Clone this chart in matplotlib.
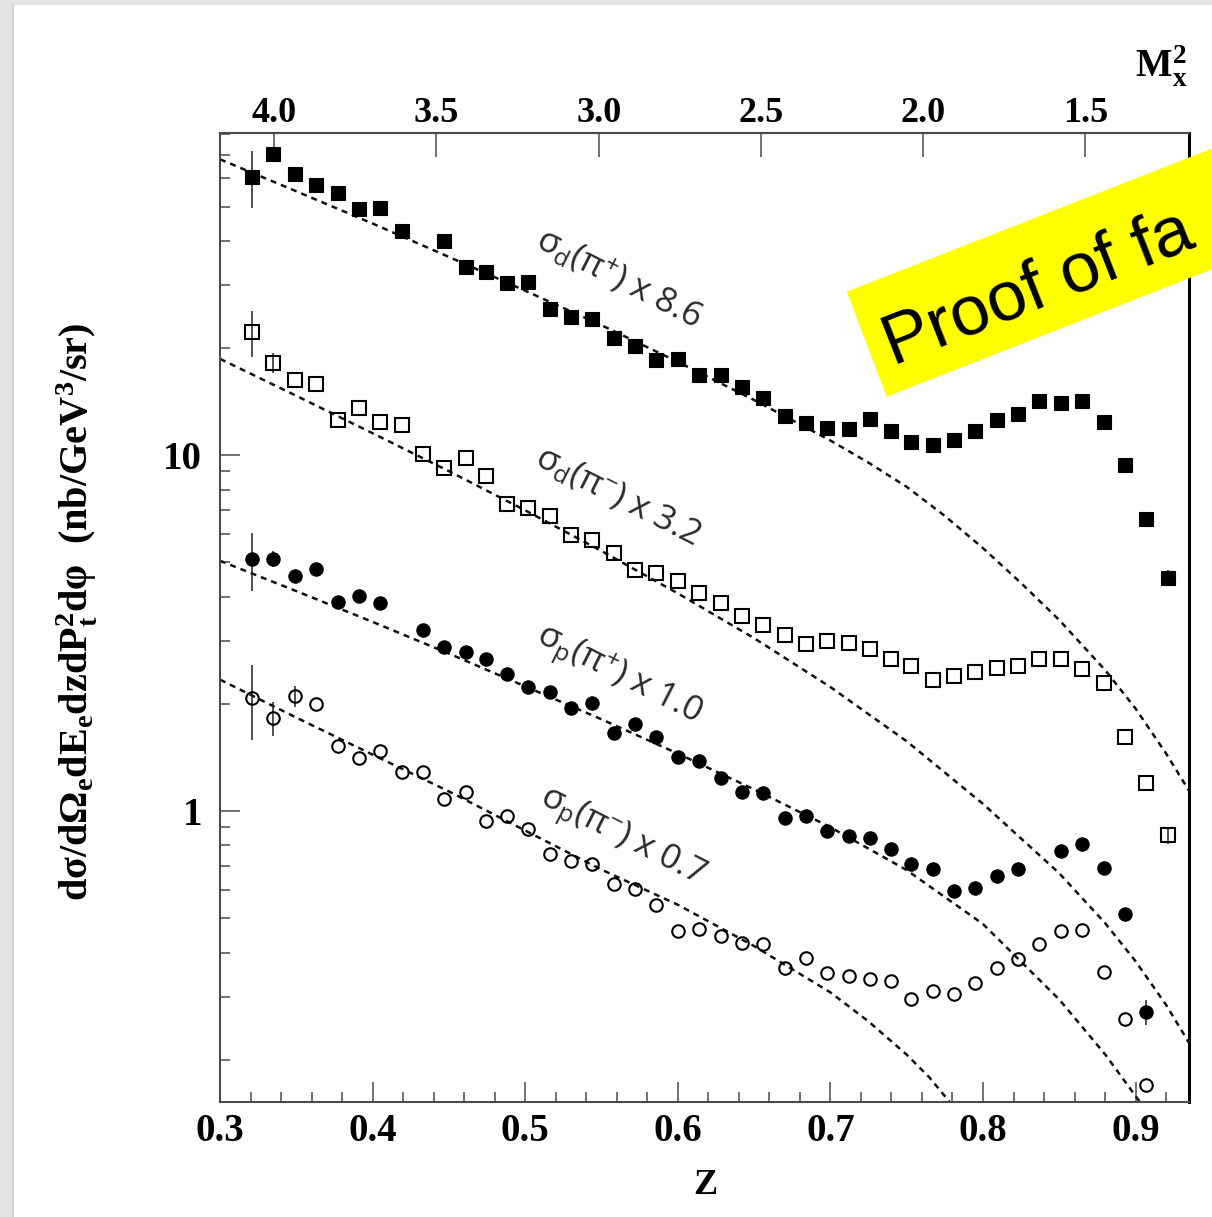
import numpy as np
import matplotlib
matplotlib.use("Agg")
import matplotlib.pyplot as plt
from matplotlib.patches import Rectangle, Polygon
from matplotlib.ticker import MultipleLocator, FuncFormatter, LogLocator, NullLocator, NullFormatter

plt.rcParams.update({
    'font.family': ['Liberation Serif', 'DejaVu Serif'],
    'font.weight': 'bold',
    'mathtext.fontset': 'custom',
    'mathtext.rm': 'Liberation Serif:bold',
    'mathtext.bf': 'Liberation Serif:bold',
    'mathtext.it': 'Liberation Serif:bold',
    'mathtext.default': 'rm',
})

# ---------------- data ----------------
z = [0.321, 0.335, 0.349, 0.363, 0.377, 0.391, 0.405, 0.419, 0.433, 0.447,
     0.461, 0.474, 0.488, 0.502, 0.516, 0.530, 0.544, 0.558, 0.572, 0.586,
     0.600, 0.614, 0.628, 0.642, 0.656, 0.670, 0.684, 0.698, 0.712, 0.726,
     0.740, 0.753, 0.767, 0.781, 0.795, 0.809, 0.823, 0.837, 0.851, 0.865,
     0.879, 0.893, 0.907, 0.921]

nan = np.nan
# deuterium pi+ (x 8.6)
deut_pip = [60.7, 70.2, 61.7, 57.5, 54.7, 49.2, 49.7, 42.8, nan, 40.1,
            33.9, 32.7, 30.5, 30.7, 25.8, 24.5, 24.1, 21.3, 20.3, 18.55,
            18.6, 16.8, 16.8, 15.6, 14.5, 12.85, 12.3, 11.9, 11.85, 12.65,
            11.7, 10.9, 10.7, 11.05, 11.7, 12.6, 13.1, 14.2, 14.0, 14.2,
            12.4, 9.4, 6.6, 4.52]
# deuterium pi- (x 3.2)
deut_pim = [22.2, 18.2, 16.3, 15.85, 12.6, 13.6, 12.4, 12.2, 10.1, 9.22,
            9.84, 8.76, 7.31, 7.11, 6.73, 5.98, 5.78, 5.31, 4.75, 4.67,
            4.42, 4.10, 3.83, 3.53, 3.34, 3.13, 2.95, 3.00, 2.97, 2.86,
            2.68, 2.55, 2.34, 2.39, 2.46, 2.53, 2.55, 2.67, 2.68, 2.51,
            2.29, 1.61, 1.20, 0.854]
# proton pi+ (x 1.0)
prot_pip = [5.11, 5.11, 4.59, 4.79, 3.86, 4.03, 3.84, nan, 3.23, 2.89,
            2.80, 2.67, 2.42, 2.23, 2.16, 1.95, 2.01, 1.66, 1.75, 1.61,
            1.42, 1.38, 1.24, 1.13, 1.12, 0.957, 0.967, 0.878, 0.850, 0.841,
            0.780, 0.708, 0.685, 0.595, 0.609, 0.656, 0.688, nan, 0.771, 0.810,
            0.693, 0.512, 0.272, nan]
# proton pi- (x 0.7)
prot_pim = [2.08, 1.82, 2.10, 2.00, 1.52, 1.41, 1.47, 1.29, 1.29, 1.08,
            1.13, 0.936, 0.971, 0.891, 0.755, 0.723, 0.708, 0.622, 0.602, 0.543,
            0.460, 0.465, 0.445, 0.426, 0.424, 0.363, 0.385, 0.351, 0.344, 0.338,
            0.333, 0.297, 0.312, 0.305, 0.329, 0.363, 0.383, 0.424, 0.460, 0.463,
            0.352, 0.260, 0.170, nan]

# visible statistical error bars (index, half-width)
deut_pip_err_idx = [0, 1, 43]
deut_pip_err = [11.0, 2.5, 0.24]
deut_pim_err_idx = [0, 1, 43]
deut_pim_err = [3.3, 1.2, 0.045]
prot_pip_err_idx = [0, 1, 42]
prot_pip_err = [0.95, 0.27, 0.022]
prot_pim_err_idx = [0, 1, 2]
prot_pim_err = [0.50, 0.20, 0.14]

# model curves (dashed)
m_deut_pip_z = [0.300, 0.350, 0.400, 0.450, 0.500, 0.550, 0.600, 0.650, 0.700,
                0.725, 0.750, 0.775, 0.800, 0.825, 0.850, 0.880, 0.900, 0.920, 0.935]
m_deut_pip = [67.9, 55.2, 44.8, 36.1, 29.0, 23.2, 18.3, 14.3, 11.0,
              9.53, 8.15, 6.75, 5.48, 4.37, 3.44, 2.49, 1.94, 1.45, 1.14]
m_deut_pim_z = [0.300, 0.350, 0.400, 0.450, 0.500, 0.550, 0.600, 0.650, 0.700,
                0.750, 0.800, 0.850, 0.880, 0.900, 0.920, 0.935]
m_deut_pim = [18.66, 14.69, 11.53, 9.02, 7.00, 5.38, 4.09, 3.06, 2.23,
              1.57, 1.047, 0.668, 0.484, 0.378, 0.285, 0.223]
m_prot_pip_z = [0.300, 0.350, 0.400, 0.450, 0.500, 0.550, 0.600, 0.650, 0.700,
                0.750, 0.800, 0.850, 0.880, 0.900, 0.910]
m_prot_pip = [5.05, 4.15, 3.40, 2.77, 2.24, 1.81, 1.45, 1.15, 0.90,
              0.682, 0.481, 0.295, 0.207, 0.158, 0.138]
m_prot_pim_z = [0.300, 0.350, 0.400, 0.450, 0.500, 0.550, 0.600, 0.650, 0.700,
                0.725, 0.750, 0.765, 0.785]
m_prot_pim = [2.34, 1.83, 1.44, 1.135, 0.881, 0.684, 0.545, 0.417, 0.309,
              0.256, 0.2065, 0.178, 0.140]

labels = [r'σ$_\mathregular{d}$(π$^\mathregular{+}$) x 8.6',
          r'σ$_\mathregular{d}$(π$^\mathregular{-}$) x 3.2',
          r'σ$_\mathregular{p}$(π$^\mathregular{+}$) x 1.0',
          r'σ$_\mathregular{p}$(π$^\mathregular{-}$) x 0.7']
label_pos = [(0.561, 31.3), (0.561, 7.64), (0.561, 2.39), (0.563, 0.842)]

# missing-mass scale on top: M_x^2 = A - B z
MX_A, MX_B = 5.578, 4.703
mx2_ticks = [4.0, 3.5, 3.0, 2.5, 2.0, 1.5]

# ---------------- figure ----------------
W, H = 1212, 1217
fig = plt.figure(figsize=(W / 100, H / 100), dpi=100, facecolor='#e4e4e4')
fig.add_artist(Rectangle((13 / W, 0), 1 - 13 / W, 1 - 5 / H, transform=fig.transFigure,
                         facecolor='white', edgecolor='none', zorder=-5))
fig.add_artist(plt.Line2D([12.5 / W, 12.5 / W], [0, 1 - 5 / H], transform=fig.transFigure,
                          color='#cfcfcf', lw=1.2, zorder=-4))

ax = fig.add_axes([220 / W, 1 - 1102 / H, 969 / W, 969 / H])
ax.set_yscale('log')
ax.set_xlim(0.3, 0.935)
ax.set_ylim(0.152, 80.5)

zz = np.array(z)
dash = (0, (2.4, 2.0))
for mz, mv in [(m_deut_pip_z, m_deut_pip), (m_deut_pim_z, m_deut_pim),
               (m_prot_pip_z, m_prot_pip), (m_prot_pim_z, m_prot_pim)]:
    ax.plot(mz, mv, ls=dash, color='#111111', lw=1.8, zorder=2)

series = [
    (deut_pip, deut_pip_err_idx, deut_pip_err, 's', True, 10.2),
    (deut_pim, deut_pim_err_idx, deut_pim_err, 's', False, 9.5),
    (prot_pip, prot_pip_err_idx, prot_pip_err, 'o', True, 9.6),
    (prot_pim, prot_pim_err_idx, prot_pim_err, 'o', False, 9.0),
]
for vals, eidx, err, mk, filled, ms in series:
    vv = np.array(vals, dtype=float)
    ok = ~np.isnan(vv)
    ax.errorbar(zz[eidx], vv[eidx], yerr=err, fmt='none', ecolor='#222222',
                elinewidth=1.1, capsize=0, zorder=3)
    ax.plot(zz[ok], vv[ok], ls='none', marker=mk, ms=ms,
            mfc='black' if filled else 'none', mec='black',
            mew=0.8 if filled else 1.5, zorder=4)

for txt, (px, py) in zip(labels, label_pos):
    ax.text(px, py, txt, rotation=-27, rotation_mode='anchor', ha='center', va='center',
            fontsize=25, family=['Open Sans', 'DejaVu Sans'], weight='normal',
            color='#2b2b2b', zorder=5)

# axes styling
for side in ['left', 'bottom', 'top']:
    ax.spines[side].set_color('#4a4a4a')
    ax.spines[side].set_linewidth(1.5)
ax.spines['right'].set_color('black')
ax.spines['right'].set_linewidth(2.2)

ax.xaxis.set_major_locator(MultipleLocator(0.1))
ax.xaxis.set_minor_locator(MultipleLocator(0.02))
ax.xaxis.set_major_formatter(FuncFormatter(lambda v, p: f'{v:.1f}'))
ax.yaxis.set_major_locator(LogLocator(base=10))
ax.yaxis.set_minor_locator(LogLocator(base=10, subs=np.arange(2, 10)))
ax.yaxis.set_major_formatter(FuncFormatter(lambda v, p: f'{v:g}'))
ax.yaxis.set_minor_formatter(NullFormatter())
ax.tick_params(which='both', direction='in', top=False, right=False,
               color='#4a4a4a', width=1.1)
ax.tick_params(which='major', length=14.5, labelsize=28)
ax.tick_params(which='minor', length=7)
ax.tick_params(axis='x', pad=8)
ax.tick_params(axis='y', pad=13)

secax = ax.secondary_xaxis('top', functions=(lambda v: MX_A - MX_B * np.asarray(v),
                                              lambda m: (MX_A - np.asarray(m)) / MX_B))
secax.set_xticks(mx2_ticks)
secax.xaxis.set_major_formatter(FuncFormatter(lambda v, p: f'{v:.1f}'))
secax.xaxis.set_minor_locator(NullLocator())
secax.tick_params(direction='in', length=17, width=1.1, labelsize=26, pad=2, color='#4a4a4a')
secax.spines['top'].set_color('#4a4a4a')
secax.spines['top'].set_linewidth(1.5)

fig.text(1135 / W, 1 - 76 / H, r'M$_\mathregular{x}^\mathregular{2}$', fontsize=28,
         ha='left', va='baseline')
fig.text(705 / W, 1 - 1186 / H, 'Z', fontsize=26, ha='center', va='center')
fig.text(88 / W, 1 - 612 / H,
         r'dσ/dΩ$_\mathregular{e}$dE$_\mathregular{e}$dzdP$_\mathregular{t}^\mathregular{2}$dφ  (nb/GeV$^\mathregular{3}$/sr)',
         fontsize=29, rotation=90, rotation_mode='anchor', ha='center', va='baseline')

# yellow stamp across the upper right corner
ang = np.deg2rad(21.4)
ux, uy = np.cos(ang), -np.sin(ang)
A = (846.7, 291.7)
B = (886.7, 396.7)
L = 900
corners = [A, (A[0] + L * ux, A[1] + L * uy), (B[0] + L * ux, B[1] + L * uy), B]
fig.add_artist(Polygon([(x / W, 1 - y / H) for x, y in corners], closed=True,
                       transform=fig.transFigure, facecolor='#ffff00', edgecolor='none', zorder=10))
fig.text(892.7 / W, 1 - 365.5 / H, 'Proof of fa', fontsize=51, rotation=21.4,
         rotation_mode='anchor', ha='left', va='baseline', family=['Liberation Sans', 'DejaVu Sans'],
         weight='normal', color='black', zorder=11)

fig.savefig('out.png', dpi=100, facecolor=fig.get_facecolor())
